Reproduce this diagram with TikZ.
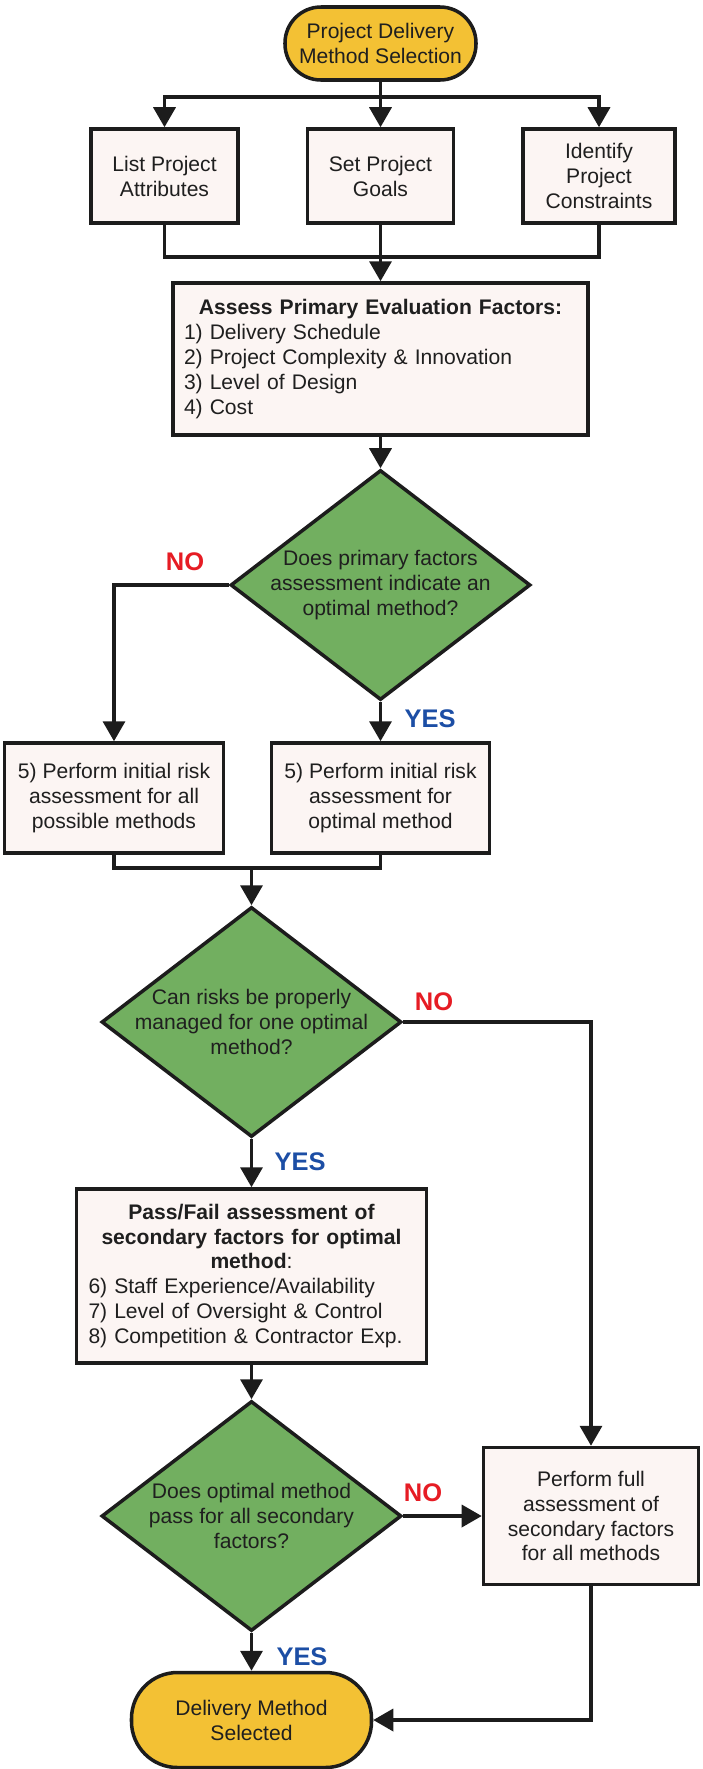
\documentclass[tikz,border=0pt]{standalone}
\usepackage{fontspec}
\setmainfont{Liberation Sans}
\usepackage{tikz}
\usetikzlibrary{shapes.geometric,arrows.meta}
\definecolor{termy}{RGB}{243,193,52}
\definecolor{decg}{RGB}{114,175,96}
\definecolor{boxf}{RGB}{252,245,243}
\definecolor{linec}{RGB}{28,28,28}
\definecolor{nored}{RGB}{230,28,36}
\definecolor{yesblue}{RGB}{28,78,165}

\begin{document}
\begin{tikzpicture}[every node/.style={font=\fontsize{12}{14.2}\selectfont, text=black!88},
  term/.style={rectangle, draw=linec, line width=2pt, fill=termy, align=center, inner sep=0pt},
  proc/.style={rectangle, draw=linec, line width=2pt, fill=boxf, align=center, inner sep=0pt},
  decide/.style={diamond, draw=linec, line width=2pt, fill=decg, align=center, inner sep=0pt, aspect=1.3, minimum width=6cm, minimum height=4.6cm},
  arr/.style={draw=linec, line width=2pt, -{Triangle[length=0.4cm,width=0.44cm]}},
  link/.style={draw=linec, line width=2pt},
  nolabel/.style={font=\fontsize{14.5}{16}\selectfont\bfseries, text=nored},
  yeslabel/.style={font=\fontsize{14.5}{16}\selectfont\bfseries, text=yesblue}]
  \useasboundingbox (0,0) rectangle (14.06,-35.38);
  \node[term, minimum width=3.82cm, minimum height=1.46cm, rounded corners=0.72cm] (S) at (7.61,-0.87) {Project Delivery\\Method Selection};
  \node[proc, minimum width=2.94cm, minimum height=1.88cm] (LA) at (3.29,-3.52) {List Project\\Attributes};
  \node[proc, minimum width=2.92cm, minimum height=1.88cm] (SG) at (7.61,-3.52) {Set Project\\Goals};
  \node[proc, minimum width=3.04cm, minimum height=1.88cm] (IC) at (11.98,-3.52) {Identify\\Project\\Constraints};
  \node[proc, minimum width=8.30cm, minimum height=3.04cm, text width=7.86cm, align=left] (PE) at (7.61,-7.18)
    {\makebox[7.86cm]{\textbf{Assess Primary Evaluation Factors:}}\\1) Delivery Schedule\\2) Project Complexity \& Innovation\\3) Level of Design\\4) Cost};
  \node[decide, inner xsep=-0.12cm] (D1) at (7.61,-11.70) {Does primary factors\\assessment indicate an\\optimal method?};
  \node[proc, minimum width=4.38cm, minimum height=2.20cm] (RA) at (2.28,-15.96) {5) Perform initial risk\\assessment for all\\possible methods};
  \node[proc, minimum width=4.36cm, minimum height=2.20cm] (RO) at (7.61,-15.96) {5) Perform initial risk\\assessment for\\optimal method};
  \node[decide, inner xsep=-0.21cm] (D2) at (5.03,-20.44) {Can risks be properly\\managed for one optimal\\method?};
  \node[proc, minimum width=7.00cm, minimum height=3.48cm, text width=6.52cm, align=left] (PF) at (5.03,-25.52)
    {\makebox[6.52cm]{\textbf{Pass/Fail assessment of}}\\\makebox[6.52cm]{\textbf{secondary factors for optimal}}\\\makebox[6.52cm]{\textbf{method}:}\\6) Staff Experience/Availability\\7) Level of Oversight \& Control\\8) Competition \& Contractor Exp.};
  \node[decide] (D3) at (5.03,-30.32) {Does optimal method\\pass for all secondary\\factors?};
  \node[proc, minimum width=4.30cm, minimum height=2.74cm] (FA) at (11.82,-30.32) {Perform full\\assessment of\\secondary factors\\for all methods};
  \node[term, minimum width=4.80cm, minimum height=1.90cm, rounded corners=0.92cm] (E) at (5.03,-34.40) {Delivery Method\\Selected};
  \node[nolabel] (N1) at (3.70,-11.24) {NO};
  \node[yeslabel] (Y1) at (8.60,-14.38) {YES};
  \node[nolabel] (N2) at (8.68,-20.04) {NO};
  \node[yeslabel] (Y2) at (6.00,-23.24) {YES};
  \node[nolabel] (N3) at (8.46,-29.86) {NO};
  \node[yeslabel] (Y3) at (6.04,-33.14) {YES};
  \coordinate (sp) at (7.61,-1.94);
  \coordinate (mg) at (7.61,-5.14);
  \coordinate (mg2) at (5.03,-17.36);
  \draw[arr] (S) -- (SG);
  \draw[arr] (sp) -| (LA);
  \draw[arr] (sp) -| (IC);
  \draw[link] (LA) |- (mg);
  \draw[link] (IC) |- (mg);
  \draw[arr] (SG) -- (PE);
  \draw[arr] (PE) -- (D1);
  \draw[arr] (D1) -| (RA);
  \draw[arr] (D1) -- (RO);
  \draw[link] (RA) |- (mg2);
  \draw[link] (RO) |- (mg2);
  \draw[arr] (mg2) -- (D2);
  \draw[arr] (D2) -| (FA);
  \draw[arr] (D2) -- (PF);
  \draw[arr] (PF) -- (D3);
  \draw[arr] (D3) -- (FA);
  \draw[arr] (D3) -- (E);
  \draw[arr] (FA) |- (E);
\end{tikzpicture}
\end{document}
